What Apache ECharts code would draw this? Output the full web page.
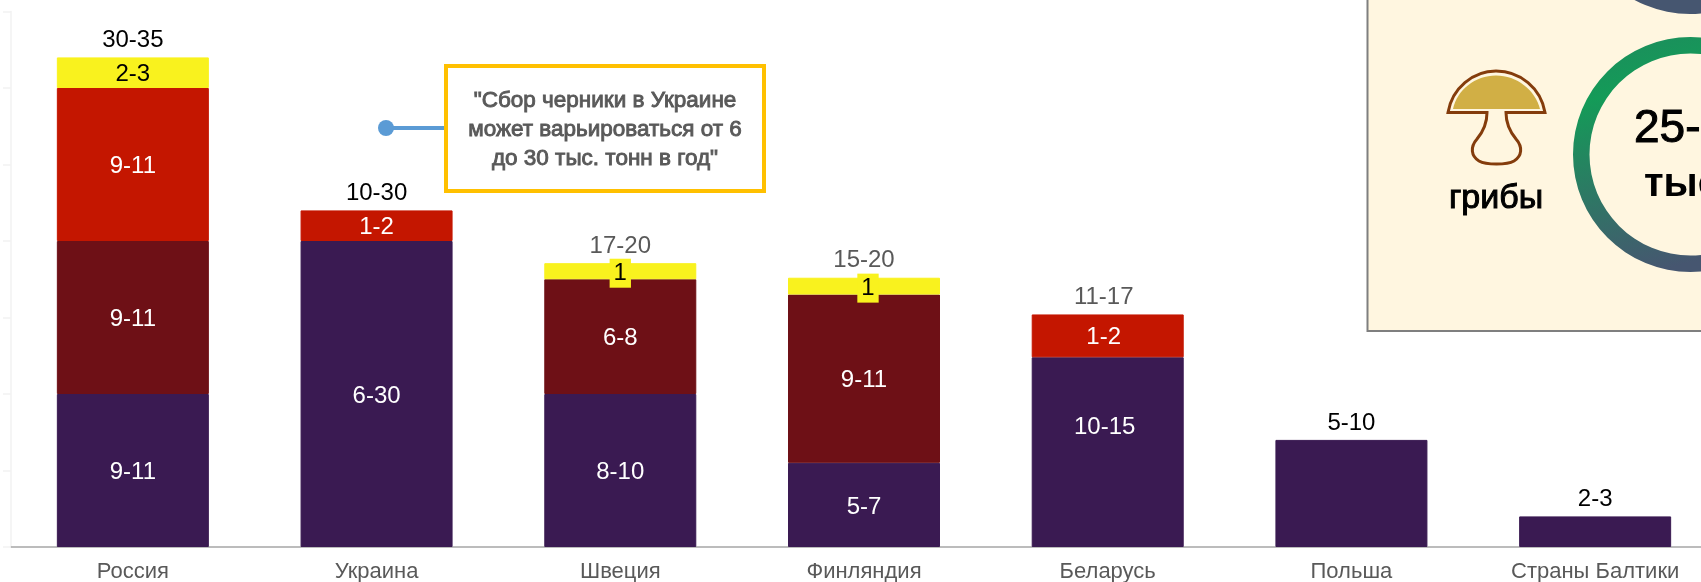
<!DOCTYPE html>
<html>
<head>
<meta charset="utf-8">
<title>chart</title>
<style>
    html, body { margin: 0; padding: 0; background: #fff; }
    #chart { width: 1701px; height: 582px; overflow: hidden; }
</style>
<script src="https://cdn.jsdelivr.net/npm/echarts@6/dist/echarts.min.js"></script>
</head>
<body>
<div id="chart"></div>
<script>
var categories = ['Россия', 'Украина', 'Швеция', 'Финляндия', 'Беларусь', 'Польша', 'Страны Балтики'];

var purpleValues = [10, 20, 10, 5.5, 12.4, 7, 2];
var brownValues = [10, null, 7.5, 11, null, null, null];
var redValues = [10, 2, null, null, 2.8, null, null];
var yellowValues = [2, null, 1.05, 1.1, null, null, null];
var topValues = [32, 22, 18.55, 17.65, 15.2, 7, 2];

var purpleLabels = ['9-11', '6-30', '8-10', '5-7', '10-15', '', ''];
var brownLabels = ['9-11', '', '6-8', '9-11', '', '', ''];
var redLabels = ['9-11', '1-2', '', '', '1-2', '', ''];
var yellowLabels = ['2-3', '', '1', '1', '', '', ''];
var topLabels = ['30-35', '10-30', '17-20', '15-20', '11-17', '5-10', '2-3'];
var topColors = ['#000', '#000', '#595959', '#595959', '#595959', '#000', '#000'];

var FONT = '"Liberation Sans", sans-serif';

// mushroom icon, no path element in the graphic component so register shapes
echarts.graphic.registerShape('mushroomOutline', echarts.graphic.extendShape({
    buildPath: function (ctx) {
        ctx.moveTo(1448, 112.5);
        ctx.bezierCurveTo(1452, 88, 1473, 71, 1496, 71);
        ctx.bezierCurveTo(1520, 71, 1541, 88, 1545, 112.5);
        ctx.lineTo(1506, 112.5);
        ctx.bezierCurveTo(1506, 125, 1511, 133, 1516, 139);
        ctx.bezierCurveTo(1523, 147, 1522, 156, 1514, 161);
        ctx.bezierCurveTo(1507, 165, 1486, 165, 1479, 161);
        ctx.bezierCurveTo(1471, 156, 1470, 147, 1477, 139);
        ctx.bezierCurveTo(1482, 133, 1487, 125, 1487, 112.5);
        ctx.closePath();
    }
}));
echarts.graphic.registerShape('mushroomCap', echarts.graphic.extendShape({
    buildPath: function (ctx) {
        ctx.moveTo(1453, 109);
        ctx.bezierCurveTo(1457, 90, 1475, 75.5, 1496, 75.5);
        ctx.bezierCurveTo(1517, 75.5, 1535, 90, 1540, 109);
        ctx.closePath();
    }
}));

function barSeries(name, color, values, labels, textColor) {
    return {
        name: name,
        type: 'bar',
        stack: 'total',
        barWidth: 152,
        // thin border in the same colour hides the seams between segments
        itemStyle: { color: color, borderColor: color, borderWidth: 1 },
        data: values.slice(),
        label: {
            show: true,
            position: 'inside',
            offset: [0, 2],
            color: textColor,
            fontFamily: FONT,
            fontSize: 24,
            formatter: function (p) { return labels[p.dataIndex]; }
        }
    };
}

// a few labels sit off-centre in the original
function nudgeLabel(series, index, label) {
    series.data[index] = { value: series.data[index], label: label };
}

var purple = barSeries('purple', '#3A1A52', purpleValues, purpleLabels, '#fff');
var brown = barSeries('brown', '#6E1016', brownValues, brownLabels, '#fff');
var red = barSeries('red', '#C41600', redValues, redLabels, '#fff');
var yellow = barSeries('yellow', '#F9F21E', yellowValues, yellowLabels, '#000');
yellow.label.backgroundColor = '#F9F21E';
yellow.label.padding = [0, 4];
yellow.label.lineHeight = 29;

nudgeLabel(purple, 4, { offset: [-3, -25] });
nudgeLabel(red, 4, { offset: [-4, 2] });
nudgeLabel(yellow, 0, { backgroundColor: 'transparent' });
nudgeLabel(yellow, 3, { offset: [4, 2] });

var topData = topValues.map(function (v, i) {
    return { value: v, label: { color: topColors[i], offset: i === 4 ? [-4, 0] : [0, 0] } };
});

var chart = echarts.init(document.getElementById('chart'));
var opt = {
    animation: false,
    // the page crops the plot on the right, so no fitting to the page
    grid: { left: 11, width: 1706, top: 11.5, height: 535.5, outerBoundsMode: 'none' },
    xAxis: {
        type: 'category',
        data: categories,
        axisLine: { lineStyle: { color: '#A6A6A6', width: 1.5 } },
        axisTick: { show: false },
        axisLabel: { color: '#595959', fontFamily: FONT, fontSize: 22, margin: 14 }
    },
    yAxis: {
        type: 'value',
        min: 0,
        max: 35,
        interval: 5,
        splitLine: { show: false },
        axisLabel: { show: false },
        axisLine: { show: true, lineStyle: { color: '#F2F2F2', width: 1.5 } },
        axisTick: { show: true, length: 8, lineStyle: { color: '#F2F2F2', width: 1.5 } }
    },
    series: [
        purple,
        brown,
        red,
        yellow,
        {
            name: 'top',
            type: 'line',
            data: topData,
            symbol: 'circle',
            symbolSize: 1,
            showAllSymbol: true,
            itemStyle: { color: 'transparent' },
            lineStyle: { opacity: 0 },
            label: {
                show: true,
                position: 'top',
                distance: 4.5,
                fontFamily: FONT,
                fontSize: 24,
                formatter: function (p) { return topLabels[p.dataIndex]; }
            }
        }
    ],
    graphic: { elements: [
        // callout
        { type: 'line', z: 10, shape: { x1: 386, y1: 128, x2: 446, y2: 128 }, style: { stroke: '#5B9BD5', lineWidth: 4 } },
        { type: 'circle', z: 10, shape: { cx: 386, cy: 128, r: 8 }, style: { fill: '#5B9BD5' } },
        { type: 'rect', z: 10, shape: { x: 446, y: 66, width: 318, height: 125 }, style: { fill: '#fff', stroke: '#FFC000', lineWidth: 4 } },
        { type: 'text', z: 11, style: { text: '"Сбор черники в Украине\nможет варьироваться от 6\nдо 30 тыс. тонн в год"', x: 605, y: 129.5, fill: '#595959', stroke: '#595959', lineWidth: 0.9, font: '22.5px ' + FONT, lineHeight: 29, align: 'center', verticalAlign: 'middle' } },
        // side panel, runs off the page
        { type: 'rect', z: 10, shape: { x: 1367.5, y: -10, width: 400, height: 341 }, style: { fill: '#FFF6E0', stroke: '#7F7F7F', lineWidth: 2 } },
        { type: 'ring', z: 11, shape: { cx: 1690, cy: -103, r: 117, r0: 101 }, style: { fill: '#465670' } },
        { type: 'ring', z: 11, shape: { cx: 1690.5, cy: 154.5, r: 117.5, r0: 101 }, style: { fill: {
            type: 'linear', x: 0.3, y: 0.0, x2: 0.55, y2: 1,
            colorStops: [{ offset: 0, color: '#1B8F5C' }, { offset: 0.2, color: '#149B58' }, { offset: 0.95, color: '#465670' }]
        } } },
        { type: 'mushroomCap', z: 11, style: { fill: '#D1AF45' } },
        { type: 'mushroomOutline', z: 11, style: { fill: 'none', stroke: '#843C0C', lineWidth: 3 } },
        { type: 'text', z: 11, style: { text: 'грибы', x: 1496, y: 182, fill: '#000', stroke: '#000', lineWidth: 1, font: '34px ' + FONT, align: 'center' } },
        { type: 'text', z: 11, style: { text: '25-', x: 1634, y: 106, fill: '#000', stroke: '#000', lineWidth: 1, font: '46px ' + FONT, align: 'left' } },
        { type: 'text', z: 11, style: { text: 'тыс', x: 1644, y: 165, fill: '#000', font: 'bold 40px ' + FONT, align: 'left' } }
    ] }
};
chart.setOption(opt, true);
</script>
</body>
</html>
